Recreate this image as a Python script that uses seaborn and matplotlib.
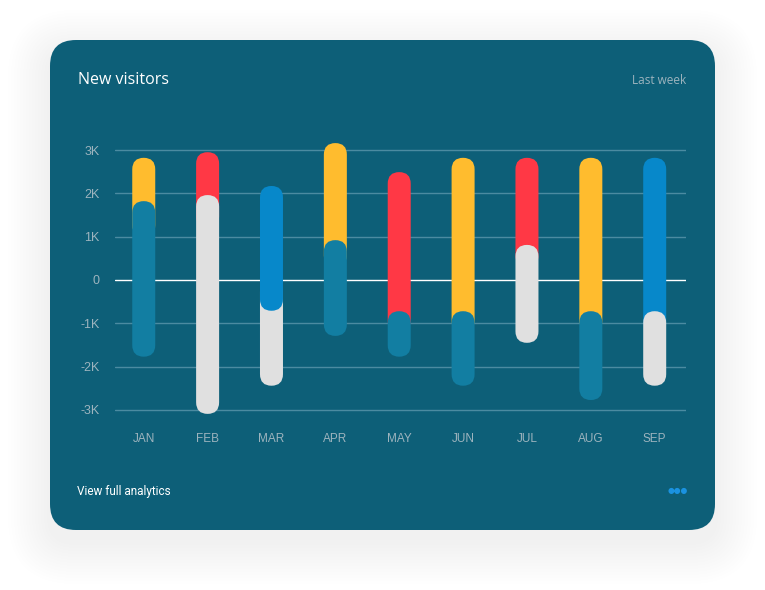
import numpy as np
import matplotlib
matplotlib.use("Agg")
import matplotlib.pyplot as plt
from matplotlib.patches import FancyBboxPatch
import seaborn as sns

# ── data (thousands of visitors) ─────────────────────────────────────────────
months = ["JAN", "FEB", "MAR", "APR", "MAY", "JUN", "JUL", "AUG", "SEP"]

# upper coloured range
upper_hi = [2.82, 2.95, 2.17, 3.16, 2.49, 2.82, 2.82, 2.82, 2.82]
upper_lo = [1.0, 1.2, -0.71, 0.3, -1.2, -1.2, 0.3, -1.2, -1.2]
upper_colors = ["#ffbc2e", "#ff3845", "#0788ca", "#ffbc2e", "#ff3845",
                "#ffbc2e", "#ff3845", "#ffbc2e", "#0788ca"]

# lower range
lower_hi = [1.82, 1.96, 0.0, 0.92, -0.72, -0.72, 0.81, -0.72, -0.72]
lower_lo = [-1.77, -3.09, -2.44, -1.29, -1.77, -2.44, -1.45, -2.77, -2.44]
lower_colors = ["#127ea2", "#e0e0e0", "#e0e0e0", "#127ea2", "#127ea2",
                "#127ea2", "#e0e0e0", "#127ea2", "#e0e0e0"]

upper_in_front = [False, False, True, False, False, False, False, False, False]

yticks = [-3, -2, -1, 0, 1, 2, 3]
ytick_labels = ["-3K", "-2K", "-1K", "0", "1K", "2K", "3K"]

# ── style ────────────────────────────────────────────────────────────────────
CARD = "#0d5f78"
GRID = "#4b8ba1"
TICK = "#9db4be"

sns.set_theme(style="dark")
plt.rcParams["font.family"] = ["Liberation Sans", "DejaVu Sans"]

W, H = 765, 590
fig = plt.figure(figsize=(W / 100, H / 100), dpi=100)
fig.patch.set_facecolor("white")

# background layer in pixel coordinates: card + soft shadow
bg = fig.add_axes([0, 0, 1, 1])
bg.set_xlim(0, W)
bg.set_ylim(H, 0)
bg.axis("off")

cx0, cy0, cx1, cy1 = 50, 40, 715, 530
for i in range(14):
    s = 3 * (i + 1)
    bg.add_patch(FancyBboxPatch((cx0 - s, cy0 - s + 12), (cx1 - cx0) + 2 * s, (cy1 - cy0) + 2 * s,
                                boxstyle=f"round,pad=0,rounding_size={25 + s}",
                                fc="black", ec="none", alpha=0.0032, zorder=0))
bg.add_patch(FancyBboxPatch((cx0, cy0), cx1 - cx0, cy1 - cy0,
                            boxstyle="round,pad=0,rounding_size=26",
                            fc=CARD, ec="none", zorder=1))

bg.text(78, 80, "New visitors", color="white", fontsize=11.5, va="center", ha="left",
        family=["Open Sans", "DejaVu Sans"], zorder=2)
bg.text(686, 81, "Last week", color=TICK, fontsize=8.5, va="center", ha="right",
        family=["Open Sans", "DejaVu Sans"], zorder=2)
bg.text(77, 491, "View full analytics", color="white", fontsize=8.5, va="center", ha="left",
        family=["Roboto", "DejaVu Sans"], zorder=2)
bg.text(688, 491, "\u25cf\u25cf\u25cf", color="#1a92e0", fontsize=5.6, va="center", ha="right",
        family=["DejaVu Sans"], zorder=2)

# ── chart axes ───────────────────────────────────────────────────────────────
px_left, px_right = 115, 686
px_top, px_bottom = 280 - 3.5 * 43.33, 280 + 3.5 * 43.33
ax = fig.add_axes([px_left / W, 1 - px_bottom / H,
                   (px_right - px_left) / W, (px_bottom - px_top) / H])
ax.set_facecolor("none")

XLIM = (-0.45, 8.49)
YLIM = (-3.5, 3.5)
BAR_W = 23 / ((px_right - px_left) / (XLIM[1] - XLIM[0]))
ASPECT = ((YLIM[1] - YLIM[0]) / (px_bottom - px_top)) / ((XLIM[1] - XLIM[0]) / (px_right - px_left))


def draw_layer(lo, hi, colors, zorders):
    n_before = len(ax.patches)
    sns.barplot(x=months, y=np.subtract(hi, lo), errorbar=None, width=BAR_W, ax=ax)
    new = list(ax.patches[n_before:])
    for p, b, c, z in zip(new, lo, colors, zorders):
        x, w, h = p.get_x(), p.get_width(), p.get_height()
        p.remove()
        ax.add_patch(FancyBboxPatch((x, b), w, h,
                                    boxstyle=f"round,pad=0,rounding_size={w / 2}",
                                    mutation_aspect=ASPECT, fc=c, ec="none", zorder=z))


draw_layer(upper_lo, upper_hi, upper_colors, [4 if f else 2 for f in upper_in_front])
draw_layer(lower_lo, lower_hi, lower_colors, [3] * len(months))

ax.set_xlim(*XLIM)
ax.set_ylim(*YLIM)
ax.set_yticks(yticks)
ax.set_yticklabels(ytick_labels)
for y in yticks:
    if y == 0:
        ax.axhline(y, color="white", lw=1.0, zorder=1.5)
    else:
        ax.axhline(y, color=GRID, lw=1.0, zorder=1)
ax.grid(False)
for sp in ax.spines.values():
    sp.set_visible(False)
ax.tick_params(axis="y", length=0, pad=11, labelsize=9, labelcolor=TICK)
ax.tick_params(axis="x", length=0, pad=1, labelsize=8.5, labelcolor=TICK)
ax.set_xlabel("")
ax.set_ylabel("")

fig.savefig("out.png", dpi=100, facecolor="white")
